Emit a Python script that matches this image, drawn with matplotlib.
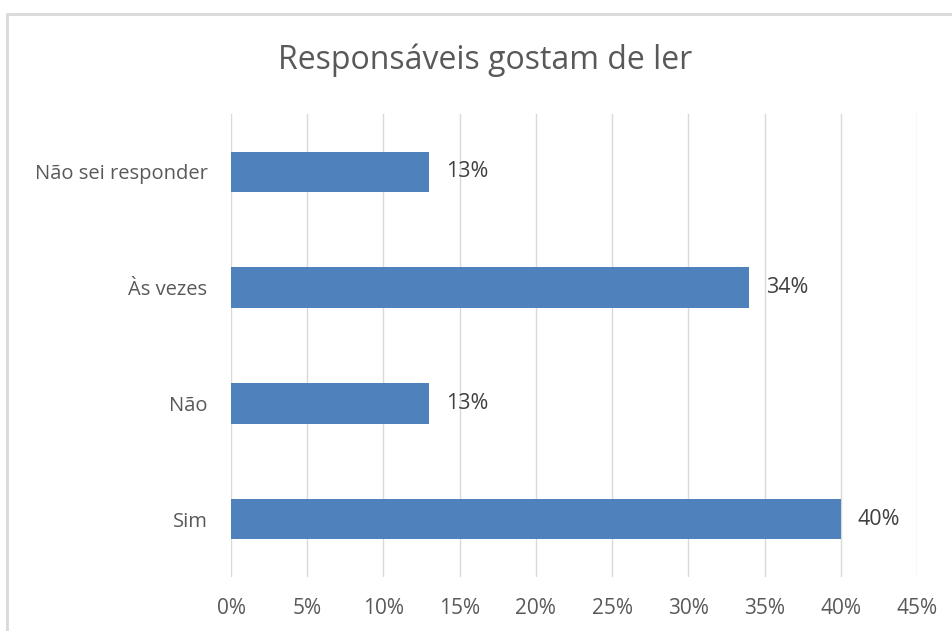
import matplotlib.pyplot as plt
from matplotlib.patches import Rectangle

categorias = ['Sim', 'Não', 'Às vezes', 'Não sei responder']
valores = [40, 13, 34, 13]
ticks = [0, 5, 10, 15, 20, 25, 30, 35, 40, 45]
tick_labels = [f'{t}%' for t in ticks]

plt.rcParams['font.family'] = ['Open Sans', 'DejaVu Sans']

fig = plt.figure(figsize=(9.53, 6.31), dpi=100)
ax = fig.add_axes([0.2424, 0.0856, 0.7198, 0.7337])

# moldura do grafico (cortada a direita e embaixo)
fig.patches.append(Rectangle((7 / 953, -0.05), 1.1, 1 - 14 / 631 + 0.05,
                             transform=fig.transFigure, fill=False,
                             edgecolor='#D9D9D9', linewidth=2))

ax.barh(categorias, valores, height=0.35, color='#4F81BD', zorder=3)
for i, v in enumerate(valores):
    ax.text(v + 1.1, i, f'{v}%', va='center', ha='left', fontsize=15.5,
            color='#404040')

ax.set_xlim(0, 45)
ax.set_ylim(-0.5, 3.5)
ax.set_xticks(ticks)
ax.set_xticklabels(tick_labels)
ax.grid(axis='x', color='#D9D9D9', linewidth=1, zorder=0)
ax.tick_params(axis='y', length=0, labelsize=14.5, colors='#595959', pad=17)
ax.tick_params(axis='x', length=0, labelsize=15, colors='#595959', pad=15)
for s in ax.spines.values():
    s.set_visible(False)

fig.text(0.509, 1 - 60 / 631, 'Responsáveis gostam de ler', ha='center',
         va='center', fontsize=23, color='#595959')

plt.savefig('out.png', dpi=100)
